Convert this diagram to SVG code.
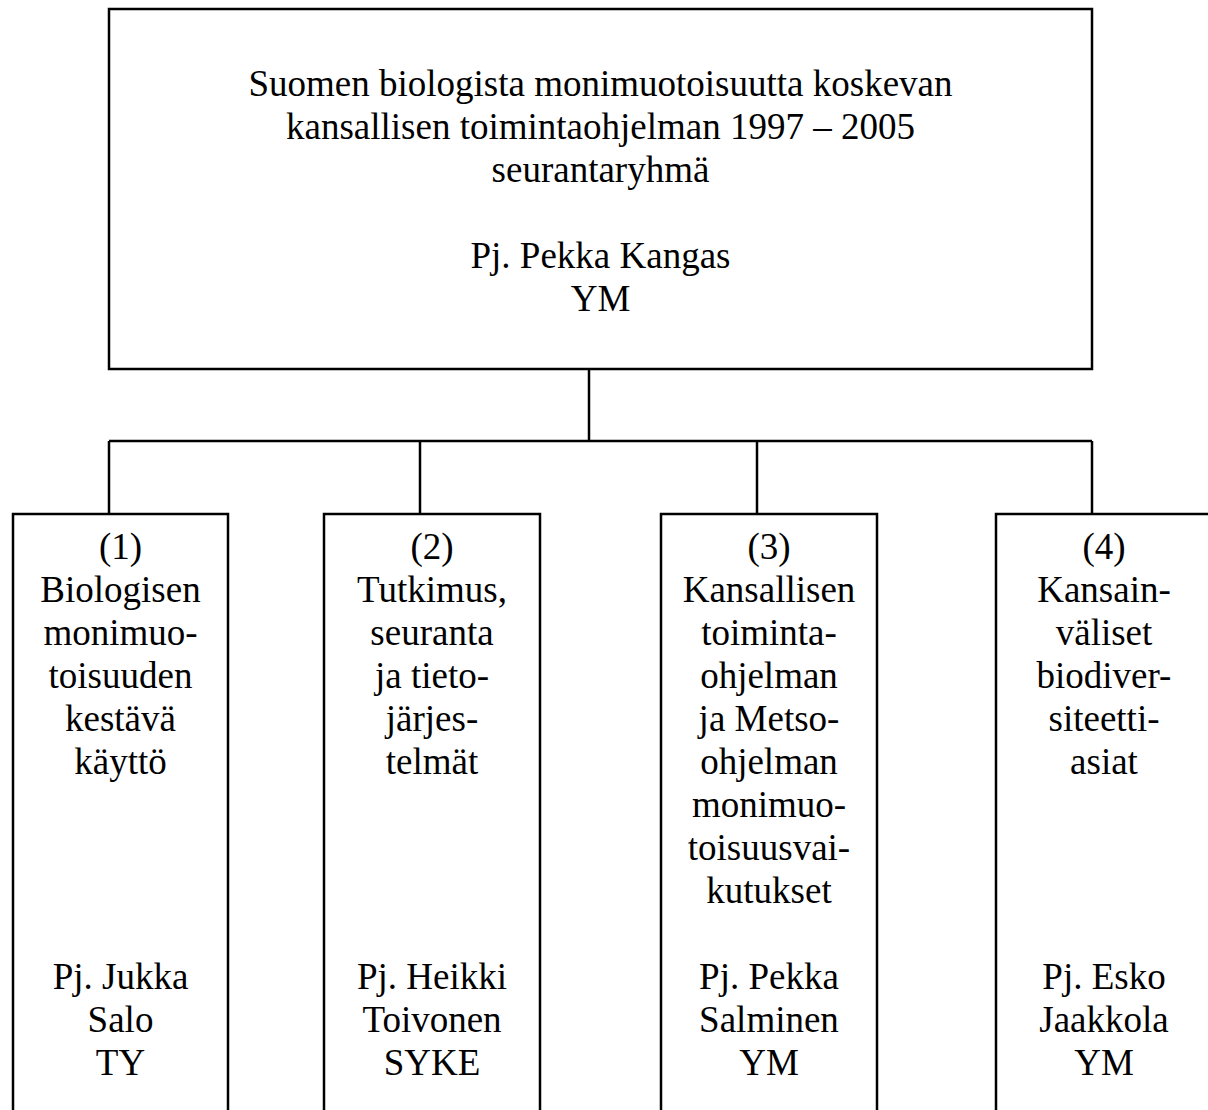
<svg xmlns="http://www.w3.org/2000/svg" width="1208" height="1110" viewBox="0 0 1208 1110">
<style>
.box{fill:#fff;stroke:#000;stroke-width:2.5}
.ln{fill:none;stroke:#000;stroke-width:2.5}
text{font-family:"Liberation Serif","Times New Roman",serif;font-size:37px;fill:#000;text-anchor:middle}
</style>
<rect width="1208" height="1110" fill="#fff"/>
<g id="connectors">
<line class="ln" x1="589" y1="369" x2="589" y2="441"/>
<line class="ln" x1="109" y1="441" x2="1092" y2="441"/>
<line class="ln" x1="109" y1="441" x2="109" y2="514"/>
<line class="ln" x1="420" y1="441" x2="420" y2="514"/>
<line class="ln" x1="757" y1="441" x2="757" y2="514"/>
<line class="ln" x1="1092" y1="441" x2="1092" y2="514"/>
</g>
<g id="top">
<rect class="box" x="109" y="9" width="983" height="360"/>
<text x="600.5" y="96">Suomen biologista monimuotoisuutta koskevan</text>
<text x="600.5" y="139">kansallisen toimintaohjelman 1997 – 2005</text>
<text x="600.5" y="182">seurantaryhmä</text>
<text x="600.5" y="268">Pj. Pekka Kangas</text>
<text x="600.5" y="311">YM</text>
</g>
<g id="n1">
<rect class="box" x="13" y="514" width="215" height="620"/>
<text x="120.5" y="559">(1)</text>
<text x="120.5" y="602">Biologisen</text>
<text x="120.5" y="645">monimuo-</text>
<text x="120.5" y="688">toisuuden</text>
<text x="120.5" y="731">kestävä</text>
<text x="120.5" y="774">käyttö</text>
<text x="120.5" y="989">Pj. Jukka</text>
<text x="120.5" y="1032">Salo</text>
<text x="120.5" y="1075">TY</text>
</g>
<g id="n2">
<rect class="box" x="324" y="514" width="216" height="620"/>
<text x="432" y="559">(2)</text>
<text x="432" y="602">Tutkimus,</text>
<text x="432" y="645">seuranta</text>
<text x="432" y="688">ja tieto-</text>
<text x="432" y="731">järjes-</text>
<text x="432" y="774">telmät</text>
<text x="432" y="989">Pj. Heikki</text>
<text x="432" y="1032">Toivonen</text>
<text x="432" y="1075">SYKE</text>
</g>
<g id="n3">
<rect class="box" x="661" y="514" width="216" height="620"/>
<text x="769" y="559">(3)</text>
<text x="769" y="602">Kansallisen</text>
<text x="769" y="645">toiminta-</text>
<text x="769" y="688">ohjelman</text>
<text x="769" y="731">ja Metso-</text>
<text x="769" y="774">ohjelman</text>
<text x="769" y="817">monimuo-</text>
<text x="769" y="860">toisuusvai-</text>
<text x="769" y="903">kutukset</text>
<text x="769" y="989">Pj. Pekka</text>
<text x="769" y="1032">Salminen</text>
<text x="769" y="1075">YM</text>
</g>
<g id="n4">
<rect class="box" x="996" y="514" width="216" height="620"/>
<text x="1104" y="559">(4)</text>
<text x="1104" y="602">Kansain-</text>
<text x="1104" y="645">väliset</text>
<text x="1104" y="688">biodiver-</text>
<text x="1104" y="731">siteetti-</text>
<text x="1104" y="774">asiat</text>
<text x="1104" y="989">Pj. Esko</text>
<text x="1104" y="1032">Jaakkola</text>
<text x="1104" y="1075">YM</text>
</g>
</svg>
